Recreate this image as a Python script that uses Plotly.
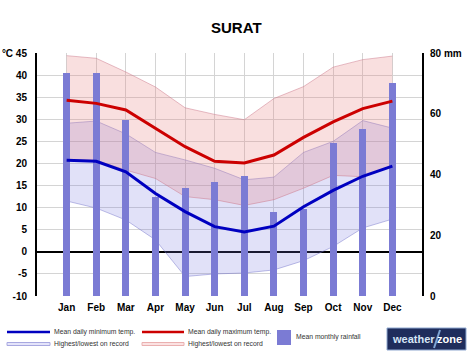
import plotly.graph_objects as go

months = ["Jan", "Feb", "Mar", "Apr", "May", "Jun", "Jul", "Aug", "Sep", "Oct", "Nov", "Dec"]
mean_max = [34.3, 33.6, 32.1, 28.0, 23.8, 20.5, 20.1, 21.9, 25.9, 29.4, 32.4, 34.1]
mean_min = [20.7, 20.5, 18.1, 13.2, 9.1, 5.7, 4.5, 5.8, 10.2, 13.9, 17.1, 19.4]
max_high = [44.4, 43.8, 40.7, 37.3, 32.6, 31.1, 29.9, 34.7, 37.4, 41.8, 43.5, 44.3]
max_low = [20.9, 20.7, 18.5, 16.6, 12.5, 11.8, 10.5, 11.8, 14.4, 17.3, 17.0, 19.6]
min_high = [29.1, 29.6, 26.7, 22.5, 20.8, 18.9, 16.3, 16.9, 22.5, 25.0, 29.7, 28.0]
min_low = [11.5, 9.9, 7.2, 2.7, -5.6, -5.0, -4.8, -4.1, -2.0, 1.2, 5.4, 7.4]
rain = [73.4, 73.4, 57.8, 32.5, 35.6, 37.4, 39.6, 27.6, 28.5, 50.5, 55.0, 70.2]

temp_ticks = list(range(-10, 50, 5))
temp_labels = [str(t) for t in temp_ticks[:-1]] + ["°C 45"]
rain_ticks = [0, 20, 40, 60, 80]
rain_labels = ["0", "20", "40", "60", "80 mm"]

FONT = "Liberation Sans, Arial, sans-serif"
xi = list(range(len(months)))

# plot area in pixels
L, R, T, B = 37, 422, 53, 296
def px(x):
    return (x - L) / (R - L)
def py(y):
    return (B - y) / (B - T)

fig = go.Figure()

# blue band (record low/high of minimum)
fig.add_trace(go.Scatter(x=xi, y=min_low, mode="lines", line=dict(color="rgba(110,110,200,0.45)", width=1),
                         hoverinfo="skip", showlegend=False, xaxis="x", yaxis="y"))
fig.add_trace(go.Scatter(x=xi, y=min_high, mode="lines", line=dict(color="rgba(110,110,200,0.45)", width=1),
                         fill="tonexty", fillcolor="rgba(120,120,225,0.22)",
                         hoverinfo="skip", showlegend=False, xaxis="x", yaxis="y"))
# red band (record low/high of maximum)
fig.add_trace(go.Scatter(x=xi, y=max_low, mode="lines", line=dict(color="rgba(200,110,130,0.45)", width=1),
                         hoverinfo="skip", showlegend=False, xaxis="x", yaxis="y"))
fig.add_trace(go.Scatter(x=xi, y=max_high, mode="lines", line=dict(color="rgba(200,110,130,0.45)", width=1),
                         fill="tonexty", fillcolor="rgba(232,130,130,0.26)",
                         hoverinfo="skip", showlegend=False, xaxis="x", yaxis="y"))

# rainfall bars
fig.add_trace(go.Bar(x=xi, y=rain, width=0.24, marker=dict(color="#7b7bd4", line=dict(width=0)),
                     showlegend=False, xaxis="x", yaxis="y2"))

# mean lines
fig.add_trace(go.Scatter(x=xi, y=mean_max, mode="lines", line=dict(color="#cc0000", width=3),
                         showlegend=False, xaxis="x", yaxis="y3"))
fig.add_trace(go.Scatter(x=xi, y=mean_min, mode="lines", line=dict(color="#0000c0", width=3),
                         showlegend=False, xaxis="x", yaxis="y3"))

shapes = []
annotations = []

# title
annotations.append(dict(x=px(237), y=py(27), xref="paper", yref="paper", text="<b>SURAT</b>",
                        showarrow=False, font=dict(family=FONT, size=15, color="#000"),
                        xanchor="center", yanchor="middle"))

legend_font = dict(family=FONT, size=6.8, color="#333")
row1, row2 = 332, 344
# blue mean min
shapes.append(dict(type="line", xref="paper", yref="paper", x0=px(7), x1=px(50), y0=py(row1), y1=py(row1),
                   line=dict(color="#0000c0", width=2.5)))
shapes.append(dict(type="rect", xref="paper", yref="paper", x0=px(7), x1=px(50), y0=py(row2 - 1.5), y1=py(row2 + 1.5),
                   fillcolor="#e4e4fa", line=dict(color="#a8a8e0", width=1)))
annotations.append(dict(x=px(52), y=py(row1), xref="paper", yref="paper", text="Mean daily minimum temp.",
                        showarrow=False, font=legend_font, xanchor="left", yanchor="middle"))
annotations.append(dict(x=px(52), y=py(row2), xref="paper", yref="paper", text="Highest/lowest on record",
                        showarrow=False, font=legend_font, xanchor="left", yanchor="middle"))
# red mean max
shapes.append(dict(type="line", xref="paper", yref="paper", x0=px(142), x1=px(184), y0=py(row1), y1=py(row1),
                   line=dict(color="#cc0000", width=2.5)))
shapes.append(dict(type="rect", xref="paper", yref="paper", x0=px(142), x1=px(184), y0=py(row2 - 1.5), y1=py(row2 + 1.5),
                   fillcolor="#fbe2e2", line=dict(color="#eab0b0", width=1)))
annotations.append(dict(x=px(186), y=py(row1), xref="paper", yref="paper", text="Mean daily maximum temp.",
                        showarrow=False, font=legend_font, xanchor="left", yanchor="middle"))
annotations.append(dict(x=px(186), y=py(row2), xref="paper", yref="paper", text="Highest/lowest on record",
                        showarrow=False, font=legend_font, xanchor="left", yanchor="middle"))
# rainfall square
shapes.append(dict(type="rect", xref="paper", yref="paper", x0=px(277), x1=px(291), y0=py(345), y1=py(330),
                   fillcolor="#7b7bd4", line=dict(width=0)))
annotations.append(dict(x=px(294), y=py(337), xref="paper", yref="paper", text="Mean monthly rainfall",
                        showarrow=False, font=legend_font, xanchor="left", yanchor="middle"))
# weatherzone logo
shapes.append(dict(type="rect", xref="paper", yref="paper", x0=px(387), x1=px(466), y0=py(350), y1=py(328),
                   fillcolor="#1f2d5c", line=dict(color="#8fa8d0", width=1)))
shapes.append(dict(type="line", xref="paper", yref="paper", x0=px(434), x1=px(440), y0=py(348), y1=py(330),
                   line=dict(color="#7fa6d6", width=2)))
annotations.append(dict(x=px(390), y=py(339), xref="paper", yref="paper", text="<b>weather</b>",
                        showarrow=False, font=dict(family=FONT, size=11, color="#d7e6f7"),
                        xanchor="left", yanchor="middle"))
annotations.append(dict(x=px(464), y=py(339), xref="paper", yref="paper", text="<b>zone</b>",
                        showarrow=False, font=dict(family=FONT, size=11, color="#ffffff"),
                        xanchor="right", yanchor="middle"))

tickfont = dict(family=FONT, size=10, color="#000", weight="bold")

fig.update_layout(
    width=474, height=355,
    margin=dict(l=L, r=474 - R, t=T, b=355 - B, pad=0, autoexpand=False),
    paper_bgcolor="white", plot_bgcolor="white",
    showlegend=False,
    bargap=0,
    xaxis=dict(range=[-1, 12], tickvals=xi, ticktext=months, showgrid=True, gridcolor="#d4d4d4",
               gridwidth=1, zeroline=False, showline=False, ticks="", tickfont=tickfont,
               ticklabelstandoff=4, fixedrange=True, automargin=False),
    yaxis=dict(range=[-10, 45], tickvals=temp_ticks, ticktext=temp_labels, showgrid=True,
               gridcolor="#d4d4d4", gridwidth=1, zeroline=True, zerolinecolor="#000", zerolinewidth=1.5,
               showline=True, linecolor="#000", linewidth=2, ticks="", tickfont=tickfont,
               ticklabelstandoff=6, side="left", automargin=False),
    yaxis2=dict(range=[0, 80], tickvals=rain_ticks, ticktext=rain_labels, overlaying="y", side="right",
                showgrid=False, zeroline=False, showline=True, linecolor="#000", linewidth=2,
                ticks="", tickfont=tickfont, ticklabelstandoff=4, automargin=False),
    yaxis3=dict(range=[-10, 45], overlaying="y", visible=False, showgrid=False, zeroline=False),
    shapes=shapes,
    annotations=annotations,
)

fig.write_html("out.html", config={"displayModeBar": False},
               post_script="document.body.style.margin='0';")
